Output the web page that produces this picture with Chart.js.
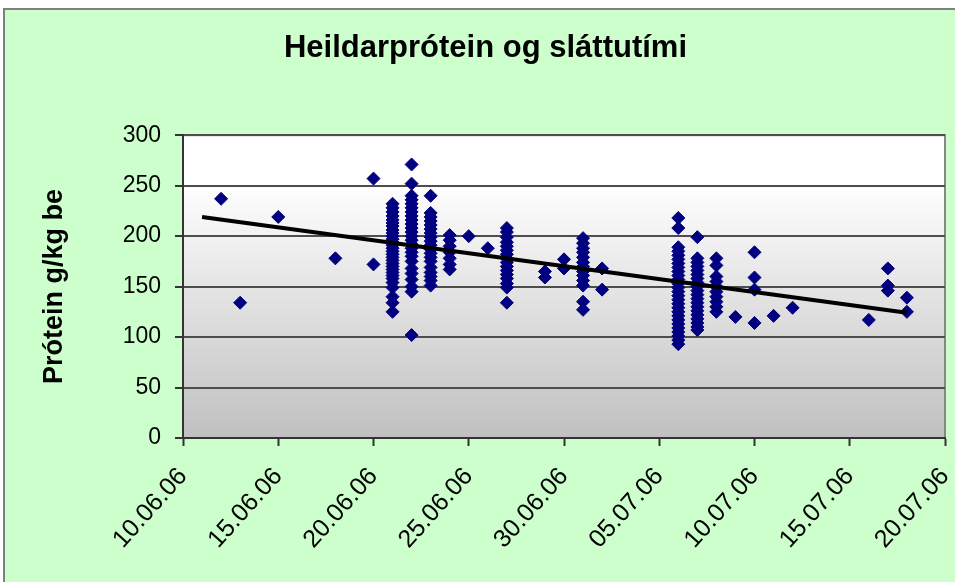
<!DOCTYPE html>
<html><head><meta charset="utf-8">
<script src="https://cdn.jsdelivr.net/npm/chart.js@4/dist/chart.umd.min.js"></script>
<style>html,body{margin:0;padding:0;background:#fff}canvas{display:block}</style>
</head><body>
<canvas id="c" width="955" height="582"></canvas>
<script>
const chartTitle = 'Heildarprótein og sláttutími';
const yAxisTitle = 'Prótein g/kg be';
const xTickLabels = ['10.06.06','15.06.06','20.06.06','25.06.06','30.06.06','05.07.06','10.07.06','15.07.06','20.07.06'];
const yTicks = [0, 50, 100, 150, 200, 250, 300];

// sampling dates (dd.mm, 2006) and protein values measured on each date
const sampleDates = ['12.06','13.06','15.06','18.06','20.06','21.06','22.06','23.06','24.06','25.06','26.06','27.06',
  '29.06','30.06','01.07','02.07','06.07','07.07','08.07','09.07','10.07','11.07','12.07','16.07','17.07','18.07'];
const proteinValues = [
  [237],
  [134],
  [219],
  [178],
  [257, 172],
  [232, 228, 224, 220, 216, 213, 210, 206, 203, 200, 197, 194, 191, 188, 185, 182, 179, 176, 173, 170, 167, 164, 161, 158, 154, 149, 140, 134, 125],
  [271, 252, 240, 236, 232, 228, 224, 220, 216, 212, 208, 204, 200, 196, 192, 188, 184, 180, 175, 168, 163, 157, 150, 145, 102],
  [240, 223, 219, 215, 211, 207, 203, 199, 195, 191, 187, 183, 179, 175, 169, 164, 160, 156, 151],
  [201, 196, 190, 184, 178, 172, 167],
  [200],
  [188],
  [208, 204, 199, 194, 190, 186, 182, 178, 174, 170, 166, 162, 158, 153, 149, 134],
  [165, 159],
  [177, 168],
  [198, 193, 188, 184, 179, 174, 170, 165, 161, 156, 151, 135, 127],
  [168, 147],
  [218, 208, 189, 185, 181, 177, 173, 169, 165, 161, 157, 153, 149, 145, 141, 137, 133, 129, 125, 121, 117, 113, 109, 105, 101, 97, 93],
  [199, 178, 174, 170, 166, 162, 158, 154, 150, 146, 142, 138, 134, 130, 126, 122, 118, 114, 110, 107],
  [178, 171, 160, 155, 150, 145, 140, 135, 130, 125],
  [120],
  [184, 159, 147, 114],
  [121],
  [129],
  [117],
  [168, 151, 146],
  [139, 125]
];
// linear trend line end points
const trendDates = ['11.06', '18.07'];
const trendValues = [219, 124];

const dayOf = s => { const [d, m] = s.split('.').map(Number); return (Date.UTC(2006, m - 1, d) - Date.UTC(2006, 5, 10)) / 864e5; };
const scatterPoints = sampleDates.flatMap((d, i) => proteinValues[i].map(v => ({x: dayOf(d), y: v})));
const trendPoints = trendDates.map((d, i) => ({x: dayOf(d), y: trendValues[i]}));

const FONT = '"Liberation Sans", Arial, sans-serif';

const bg = {
  id: 'bg',
  beforeDraw(chart) {
    const {ctx, chartArea: a, width, height} = chart;
    ctx.save();
    ctx.fillStyle = '#ffffff'; ctx.fillRect(0, 0, width, height);
    ctx.fillStyle = '#CCFFCC'; ctx.fillRect(4, 9, width - 4, height - 9);
    ctx.strokeStyle = '#808080'; ctx.lineWidth = 2;
    ctx.beginPath(); ctx.moveTo(4, height); ctx.lineTo(4, 9); ctx.lineTo(width, 9); ctx.stroke();
    const g = ctx.createLinearGradient(0, a.top, 0, a.bottom);
    g.addColorStop(0, '#ffffff'); g.addColorStop(0.15, '#ffffff'); g.addColorStop(1, '#c0c0c0');
    ctx.fillStyle = g; ctx.fillRect(a.left, a.top, a.right - a.left, a.bottom - a.top);
    ctx.strokeStyle = '#888888'; ctx.lineWidth = 2;
    ctx.strokeRect(a.left, a.top, a.right - a.left, a.bottom - a.top);
    ctx.restore();
  }
};

new Chart(document.getElementById('c'), {
  type: 'scatter',
  data: {
    datasets: [
      { type: 'line', label: 'trend', data: trendPoints, borderColor: '#000000', borderWidth: 4,
        pointRadius: 0, fill: false, order: 0 },
      { label: 'Prótein', data: scatterPoints, pointStyle: 'rectRot', pointRadius: 6.5,
        backgroundColor: '#000080', borderColor: '#000080', borderWidth: 1, order: 1 }
    ]
  },
  options: {
    responsive: false,
    animation: false,
    layout: { padding: { left: 26, right: 10, top: 0, bottom: 0 } },
    plugins: {
      legend: { display: false },
      tooltip: { enabled: false },
      title: { display: true, text: chartTitle, color: '#000',
        font: { family: FONT, size: 31, weight: 'bold', lineHeight: 1.2 },
        padding: { top: 30, bottom: 68 } }
    },
    scales: {
      x: {
        type: 'linear', min: 0, max: 40,
        afterFit: s => { s.height = 144; s.paddingLeft = 0; s.paddingRight = 0; },
        afterBuildTicks: s => { s.ticks = xTickLabels.map((_, i) => ({value: i * 5})); },
        ticks: { stepSize: 5, minRotation: 48, maxRotation: 48, color: '#000', padding: 16,
          font: { family: FONT, size: 25 },
          callback: (v) => xTickLabels[Math.round(v / 5)] },
        grid: { drawOnChartArea: false, drawTicks: true, tickLength: 8, tickColor: '#333', tickWidth: 2 },
        border: { display: true, color: '#333', width: 2 }
      },
      y: {
        min: 0, max: 300,
        afterFit: s => { s.width = 157; s.paddingTop = 0; s.paddingBottom = 0; },
        afterBuildTicks: s => { s.ticks = yTicks.map(v => ({value: v})); },
        ticks: { stepSize: 50, color: '#000', padding: 14, font: { family: FONT, size: 23 } },
        grid: { color: '#4d4d4d', lineWidth: 2, drawTicks: true, tickLength: 8, tickColor: '#333', tickWidth: 2 },
        border: { display: true, color: '#333', width: 2 },
        title: { display: true, text: yAxisTitle, color: '#000', padding: { top: 12, bottom: 0 },
          font: { family: FONT, size: 27, weight: 'bold', lineHeight: 1.2 } }
      }
    }
  },
  plugins: [bg]
});
</script>
</body></html>
